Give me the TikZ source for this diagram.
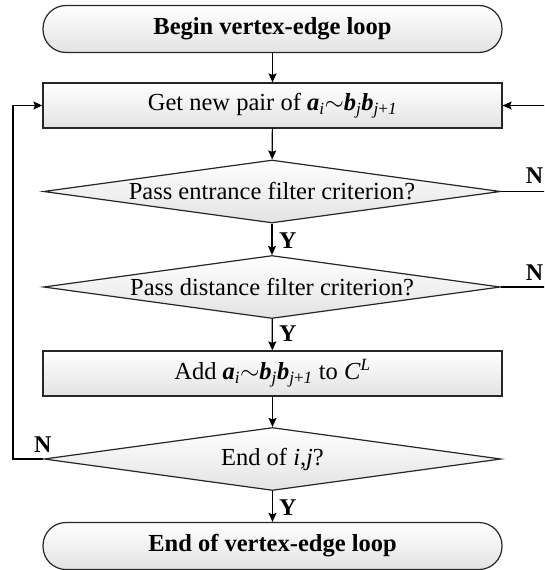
\documentclass[tikz,border=0pt]{standalone}
\usepackage{fontspec}
\setmainfont{Liberation Serif}
\usetikzlibrary{shapes.geometric,arrows.meta}
\begin{document}
\begin{tikzpicture}[x=1pt,y=-1pt,
  every node/.style={font=\fontsize{24.5}{27}\selectfont},
  fillshade/.style={top color=white,bottom color=gray!22,draw=black!85,line width=1.2pt},
  term/.style={fillshade,rounded corners=23pt,minimum width=459pt,minimum height=47pt,inner sep=0pt,font=\fontsize{24.5}{27}\selectfont\bfseries},
  procbox/.style={fillshade,rectangle,minimum width=459pt,minimum height=45pt,inner sep=0pt},
  decide/.style={fillshade,diamond,aspect=7.4,inner sep=0pt,minimum width=457pt,minimum height=63pt},
  conn/.style={line width=1.2pt,-{Stealth[length=9pt,width=8pt,inset=1.5pt]}},
  plain/.style={line width=1.2pt},
  lbl/.style={font=\fontsize{24}{26}\selectfont\bfseries,inner sep=0pt}
]
\useasboundingbox (0,0) rectangle (544,570);
\clip (0,0) rectangle (544,570);

\node[term] (begin) at (272.5,29) {Begin vertex-edge loop};
\node[procbox] (get) at (272.5,105.5) {Get new pair of \textbf{\textit{a}}\textsubscript{\textit{i}}$\sim$\textbf{\textit{b}}\textsubscript{\textit{j}}\textbf{\textit{b}}\textsubscript{\textit{j}+\textit{1}}};
\node[decide] (d1) at (272,191.5) {Pass entrance filter criterion?};
\node[decide] (d2) at (272,287) {Pass distance filter criterion?};
\node[procbox] (add) at (272.5,373.5) {Add \textbf{\textit{a}}\textsubscript{\textit{i}}$\sim$\textbf{\textit{b}}\textsubscript{\textit{j}}\textbf{\textit{b}}\textsubscript{\textit{j}+\textit{1}} to \textit{C}\textsuperscript{\textit{L}}};
\node[decide] (d3) at (272.5,459) {End of \textit{i},\textit{j}?};
\node[term] (end) at (272.5,546) {End of vertex-edge loop};

\coordinate (r0) at (546,105.5);
\coordinate (r1) at (546,191.5);
\coordinate (r2) at (546,287);
\coordinate (lb) at (13,459);
\coordinate (lt) at (13,105.5);

\draw[conn] (begin) -- (get);
\draw[conn] (get) -- (d1);
\draw[conn] (d1) -- (d2);
\draw[conn] (d2) -- (add);
\draw[conn] (add) -- (d3);
\draw[conn] (d3) -- (end);
\draw[plain] (d1.east) -- (r1);
\draw[plain] (d2.east) -- (r2);
\draw[conn] (r0) -- (get.east);
\draw[conn] (d3.west) -- (lb) -- (lt) -- (get.west);

\node[lbl,anchor=west] (y1) at (279,240.5) {Y};
\node[lbl,anchor=west] (y2) at (279,334) {Y};
\node[lbl,anchor=west] (y3) at (279,508) {Y};
\node[lbl,anchor=east] (n1) at (543.5,176) {N};
\node[lbl,anchor=east] (n2) at (543.5,273) {N};
\node[lbl,anchor=west] (n3) at (34,445) {N};
\end{tikzpicture}
\end{document}
